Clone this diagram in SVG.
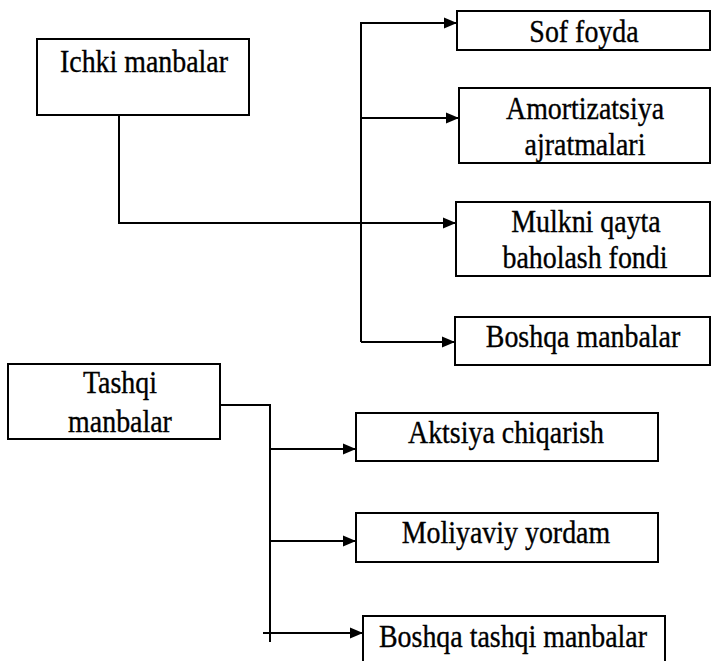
<svg xmlns="http://www.w3.org/2000/svg" width="712" height="661" viewBox="0 0 712 661">
<style>
.box{fill:#fff;stroke:#000;stroke-width:2}
.t{font-family:"Liberation Serif","Times New Roman",serif;font-size:31px;fill:#000;stroke:#000;stroke-width:0.35;text-anchor:middle;transform-box:fill-box;transform-origin:center;transform:scaleX(0.9)}
.ln{fill:none;stroke:#000;stroke-width:2}
.ar{fill:none;stroke:#000;stroke-width:2;marker-end:url(#ah)}
</style>
<defs>
<marker id="ah" markerUnits="userSpaceOnUse" markerWidth="13" markerHeight="12" refX="13" refY="6" orient="auto">
<path d="M0,0.5 L13,6 L0,11.5 z" fill="#000"/>
</marker>
</defs>
<rect width="712" height="661" fill="#fff"/>
<g id="connectors">
<path class="ln" d="M119,115 V223"/>
<path class="ar" d="M118,223 H456"/>
<path class="ln" d="M361,23 V342"/>
<path class="ar" d="M360,23 H457"/>
<path class="ar" d="M361,118 H459"/>
<path class="ar" d="M361,342 H455"/>
<path class="ln" d="M220,405 H270 V642"/>
<path class="ar" d="M270,449 H356"/>
<path class="ar" d="M270,541 H356"/>
<path class="ar" d="M263,633 H363"/>
</g>
<g id="ichki">
<rect class="box" x="37" y="39" width="212" height="76"/>
<text class="t" x="144" y="72">Ichki manbalar</text>
</g>
<g id="sof">
<rect class="box" x="457" y="11" width="253" height="39"/>
<text class="t" x="584" y="42">Sof foyda</text>
</g>
<g id="amort">
<rect class="box" x="459" y="88" width="251" height="75"/>
<text class="t" x="585" y="119">Amortizatsiya</text>
<text class="t" x="585" y="155">ajratmalari</text>
</g>
<g id="mulk">
<rect class="box" x="456" y="202" width="254" height="74"/>
<text class="t" x="586" y="232">Mulkni qayta</text>
<text class="t" x="585" y="268">baholash fondi</text>
</g>
<g id="boshqa">
<rect class="box" x="455" y="317" width="255" height="48"/>
<text class="t" x="583" y="347">Boshqa manbalar</text>
</g>
<g id="tashqi">
<rect class="box" x="8" y="364" width="212" height="75"/>
<text class="t" x="120" y="393">Tashqi</text>
<text class="t" x="120" y="432">manbalar</text>
</g>
<g id="aktsiya">
<rect class="box" x="356" y="413" width="302" height="48"/>
<text class="t" x="506" y="443">Aktsiya chiqarish</text>
</g>
<g id="moliya">
<rect class="box" x="356" y="513" width="302" height="49"/>
<text class="t" x="506" y="543">Moliyaviy yordam</text>
</g>
<g id="boshqa-tashqi">
<rect class="box" x="363" y="616" width="302" height="50"/>
<text class="t" x="513" y="647">Boshqa tashqi manbalar</text>
</g>
</svg>
